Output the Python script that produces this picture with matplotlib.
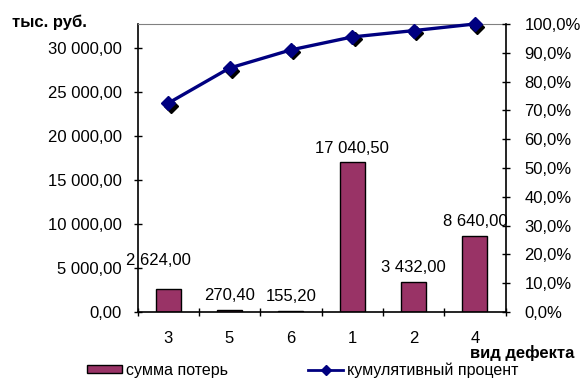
import matplotlib
matplotlib.use("Agg")
import matplotlib.pyplot as plt
import matplotlib.transforms as mtransforms
from matplotlib.lines import Line2D
from matplotlib.patches import Patch
from matplotlib.ticker import FuncFormatter

plt.rcParams["font.family"] = ["Liberation Sans", "DejaVu Sans"]

# данные с графика
categories = ["3", "5", "6", "1", "2", "4"]
losses = [2624.00, 270.40, 155.20, 17040.50, 3432.00, 8640.00]
cum_pct = [72.5, 84.7, 91.0, 95.5, 97.7, 100.0]

bar_color = "#993366"
line_color = "#000080"


def rub(v):
    s = "{:,.2f}".format(v)
    return s.replace(",", " ").replace(".", ",")


fig = plt.figure(figsize=(5.82, 3.81), dpi=100)
ax = fig.add_axes([137.5 / 582, 1 - 312 / 381, 368 / 582, 288 / 381])
x = list(range(len(categories)))

ax.bar(x, losses, width=0.41, color=bar_color, edgecolor="black", linewidth=1, zorder=2)
ax.set_xlim(-0.5, len(categories) - 0.5)
ax.set_ylim(0, 32727)
ax.set_yticks(range(0, 30001, 5000))
ax.yaxis.set_major_formatter(FuncFormatter(lambda v, p: rub(v)))
ax.set_xticks(x)
ax.set_xticklabels(categories)
ax.set_xticks([i - 0.5 for i in range(len(categories) + 1)], minor=True)
ax.tick_params(axis="x", which="major", length=0, pad=13.5, labelsize=12)
ax.tick_params(axis="x", which="minor", direction="inout", length=6, width=1)
ax.tick_params(axis="y", direction="inout", length=6, width=1, labelsize=12, pad=8.5)

for s in ["left", "bottom"]:
    ax.spines[s].set_color("black")
    ax.spines[s].set_linewidth(1.2)
ax.spines["top"].set_color("#808080")
ax.spines["right"].set_visible(False)

# подписи значений над столбцами
for i, v in enumerate(losses):
    dx, dy = (-10, 28) if i == 0 else (0, 14)
    ax.annotate(rub(v), (i, v), xytext=(dx * 0.72, dy * 0.72), textcoords="offset points",
                ha="center", va="center", fontsize=12, zorder=5)

ax2 = ax.twinx()
ax2.set_ylim(0, 100)
ax2.set_yticks(range(0, 101, 10))
ax2.yaxis.set_major_formatter(FuncFormatter(lambda v, p: "{:.1f}%".format(v).replace(".", ",")))
ax2.tick_params(axis="y", direction="inout", length=6, width=1, labelsize=12, pad=10.5)
ax2.spines["right"].set_color("black")
ax2.spines["right"].set_linewidth(1.2)
for s in ["left", "top", "bottom"]:
    ax2.spines[s].set_visible(False)

shadow = mtransforms.offset_copy(ax2.transData, fig=fig, x=2.5, y=-2.5, units="dots")
ax2.plot(x, cum_pct, linestyle="none", marker="D", markersize=7.5, color="black",
         transform=shadow, zorder=3, clip_on=False)
ax2.plot(x, cum_pct, color=line_color, linewidth=2.4, marker="D", markersize=7.5,
         markerfacecolor=line_color, markeredgecolor=line_color, zorder=4, clip_on=False)

fig.text(12 / 582, 1 - 22 / 381, "тыс. руб.", fontsize=12, fontweight="bold", va="center", ha="left")
fig.text(574 / 582, 1 - 353 / 381, "вид дефекта", fontsize=12, fontweight="bold", va="center", ha="right")

leg_opts = dict(loc="center left", frameon=False, fontsize=11.5, handlelength=2.2,
                handletextpad=0.25, handleheight=0.45, borderpad=0, borderaxespad=0)
fig.legend([Patch(facecolor=bar_color, edgecolor="black")], ["сумма потерь"],
           bbox_to_anchor=(87 / 582, 1 - 370 / 381), **leg_opts)
fig.legend([Line2D([], [], color=line_color, linewidth=2, marker="D", markersize=5)],
           ["кумулятивный процент"], bbox_to_anchor=(308 / 582, 1 - 370 / 381), **leg_opts)

fig.savefig("out.png", dpi=100)
